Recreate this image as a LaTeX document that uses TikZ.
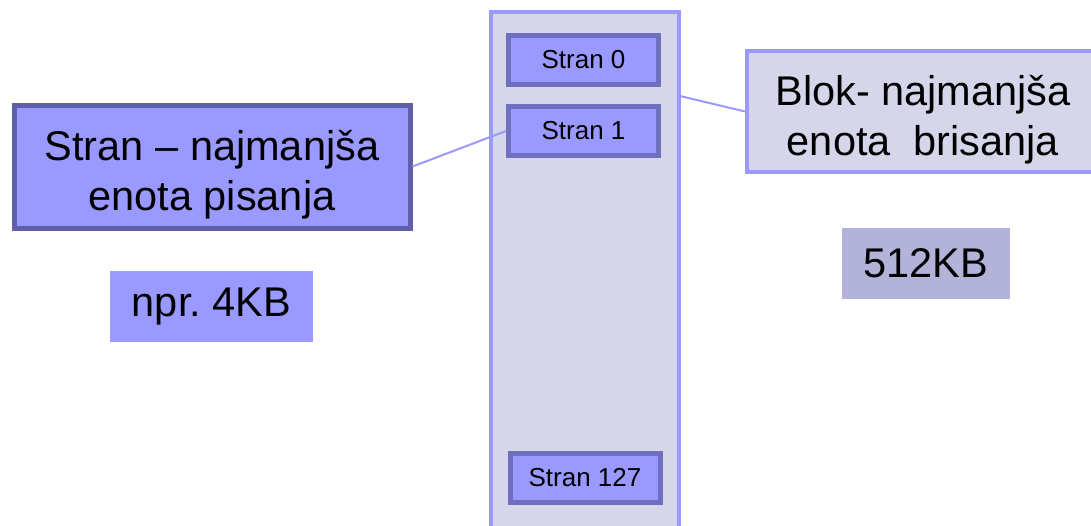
\documentclass[tikz,border=0pt]{standalone}
\usepackage{fontspec}
\setmainfont{Liberation Sans}
\frenchspacing
\usetikzlibrary{positioning}
\definecolor{lilac}{RGB}{153,153,255}
\definecolor{mist}{RGB}{214,214,234}
\definecolor{dusk}{RGB}{111,111,191}
\definecolor{plum}{RGB}{95,95,170}
\definecolor{haze}{RGB}{179,179,217}
\tikzset{
  page/.style={fill=lilac,draw=dusk,line width=2.5pt,inner sep=0pt,
    minimum width=75pt,minimum height=24.5pt,font=\fontsize{13}{15}\selectfont},
  note/.style={fill=#1,inner sep=0pt,align=center,
    font=\fontsize{20.75}{25}\selectfont},
  note/.default=lilac,
  link/.style={draw=lilac,line width=1pt},
}
\begin{document}
\begin{tikzpicture}[x=0.5pt,y=-0.5pt]
  \useasboundingbox (0,0) rectangle (1091,525);
  % erase block with its pages
  \node[fill=mist,draw=lilac,line width=2pt,inner sep=0pt,minimum width=94pt,minimum height=274pt] (col) at (585,286) {};
  \node[page] (s0) at (583.5,59.5) {Stran 0};
  \node[page] (s1) at (583.5,131) {Stran 1};
  \node[page] (s127) at (585,477.5) {Stran 127};
  % labels
  \node[note,draw=plum,line width=2.5pt,minimum width=198pt,minimum height=61.5pt] (pisanje) at (212,166.5) {\rule{0pt}{23pt}Stran -- najmanjša\\enota pisanja};
  \node[note,minimum width=101.5pt,minimum height=35.5pt] (npr) at (211.5,306.5) {npr. 4KB};
  \node[note=mist,draw=lilac,line width=2pt,minimum width=176pt,minimum height=60.5pt] (brisanje) at (923,111.5) {\rule{0pt}{23pt}Blok- najmanjša\\enota~ brisanja};
  \node[note=haze,minimum width=84pt,minimum height=35.5pt] (blokkb) at (926,263.5) {512KB};
  \coordinate (colrob) at (680,96);
  \draw[link] (pisanje.east) -- (s1.west);
  \draw[link] (colrob) -- (brisanje.west);
\end{tikzpicture}
\end{document}
